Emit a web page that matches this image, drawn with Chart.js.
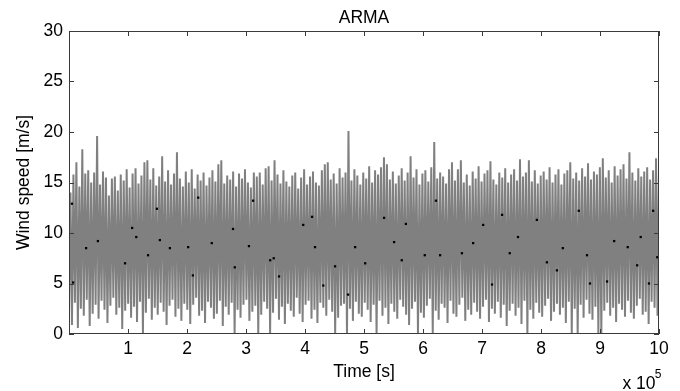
<!DOCTYPE html>
<html>
<head>
<meta charset="utf-8">
<script src="https://cdn.jsdelivr.net/npm/chart.js@4/dist/chart.umd.min.js"></script>
<style>
    html, body { margin: 0; padding: 0; background: #fff; }
    #wrap { width: 680px; height: 391px; position: relative; }
</style>
</head>
<body>
<div id="wrap"><canvas id="armaChart"></canvas></div>
<script>
// local maxima of the wind speed trace, left to right [m/s]
const peaks = [
    14.0, 15.8, 17.0, 14.6, 18.3, 15.9, 16.2, 15.0, 16.0, 19.6, 14.8, 16.1, 15.5, 13.7, 15.4, 15.6, 14.2, 15.8, 15.2, 16.3,
    14.5, 15.9, 16.4, 14.9, 15.7, 17.0, 17.2, 15.3, 16.4, 14.7, 15.6, 17.6, 15.1, 16.2, 14.8, 15.9, 18.0, 15.4, 14.6, 16.1,
    15.0, 16.3, 14.4, 15.8, 15.2, 16.0, 14.7, 15.5, 16.2, 15.1, 16.8, 17.2, 14.9, 15.7, 15.3, 16.1, 14.6, 15.9, 15.4, 16.3,
    15.0, 14.5, 16.0, 15.6, 16.0, 14.8, 16.4, 16.6, 15.2, 17.2, 15.8, 14.9, 16.2, 15.1, 14.6, 15.7, 16.0, 14.4, 15.5, 16.3,
    14.8, 15.6, 16.1, 15.0, 14.7, 16.2, 16.8, 17.0, 15.3, 15.9, 14.9, 16.4, 15.5, 16.0, 20.1, 15.2, 16.3, 15.7, 14.8, 16.0,
    15.4, 16.6, 15.0, 16.2, 15.8, 16.5, 17.5, 16.8, 15.3, 16.1, 14.9, 15.7, 16.4, 15.2, 16.0, 17.6, 15.5, 16.3, 14.8, 15.9,
    16.2, 15.1, 16.5, 19.0, 15.4, 16.0, 15.6, 14.9, 16.3, 17.0, 15.2, 16.3, 17.2, 15.0, 15.8, 14.7, 16.1, 15.4, 16.6, 15.1,
    15.9, 16.2, 17.1, 15.3, 14.8, 16.0, 15.5, 16.4, 15.0, 15.8, 16.3, 15.2, 17.3, 15.6, 16.0, 17.2, 15.1, 16.2, 14.9, 15.7,
    16.1, 15.3, 16.5, 15.0, 15.8, 16.3, 14.8, 15.9, 16.2, 17.0, 15.4, 16.0, 15.2, 16.4, 15.6, 16.9, 15.3, 16.1, 15.8, 16.5,
    17.4, 15.5, 16.2, 15.0, 16.6, 15.7, 16.3, 16.8, 15.4, 18.0, 16.0, 15.2, 16.4, 15.6, 16.1, 16.5, 15.3, 16.2, 17.4, 16.0
];

// local minima of the same trace [m/s]
const troughs = [
    2.2, 0.9, 3.1, 0.6, 2.5, 1.8, 3.4, 0.8, 2.0, 2.9, 1.5, 3.3, 2.4, 1.1, 2.8, 3.6, 1.9, 2.6, 0.5, 2.3,
    3.0, 1.6, 2.7, 1.2, 3.2, 0.0, 2.1, 3.5, 1.4, 2.6, 1.9, 3.1, 2.2, 0.9, 2.8, 3.4, 1.7, 2.5, 1.3, 3.0,
    2.4, 1.0, 2.9, 3.6, 1.8, 2.3, 1.1, 3.2, 2.6, 1.5, 2.0, 3.3, 0.8, 2.7, 1.9, 3.1, 0.0, 2.4, 1.6, 2.9,
    3.4, 1.3, 2.2, 2.8, 0.0, 1.9, 3.2, 2.5, 0.0, 2.1, 3.5, 1.4, 2.7, 1.0, 3.0, 2.3, 1.7, 3.6, 2.0, 1.2,
    2.9, 3.3, 1.5, 2.4, 1.1, 3.1, 2.6, 1.8, 3.4, 2.2, 0.0, 1.6, 2.8, 3.0, 0.0, 2.5, 1.3, 3.2, 2.0, 1.7,
    3.1, 2.4, 1.2, 2.9, 0.0, 3.3, 1.8, 2.6, 1.0, 3.0, 2.2, 1.5, 3.4, 2.7, 1.9, 0.9, 2.5, 3.2, 0.0, 2.1,
    1.6, 2.8, 3.5, 0.0, 2.3, 1.4, 3.0, 2.6, 1.1, 3.3, 2.0, 1.7, 2.9, 3.6, 1.3, 2.4, 1.9, 3.1, 2.2, 1.5,
    2.7, 3.4, 1.2, 2.5, 2.0, 3.2, 1.6, 2.9, 0.8, 2.3, 3.0, 1.8, 2.6, 1.0, 3.3, 0.0, 2.4, 1.5, 3.1, 2.1,
    1.7, 2.8, 3.5, 1.3, 2.2, 3.0, 1.9, 2.6, 1.1, 3.2, 0.0, 2.5, 0.0, 2.9, 1.6, 3.4, 2.0, 1.4, 2.7, 0.0,
    0.0, 2.3, 3.1, 1.8, 2.6, 1.2, 3.0, 2.4, 1.7, 3.3, 2.1, 1.5, 2.8, 3.5, 1.9, 2.2, 1.0, 3.2, 2.6, 1.8
];

// slow stretches of the trace that show up as dark specks (time in 1e5 s, speed in m/s)
const speckTimes = [
    0.05, 0.07, 0.29, 0.49, 0.95, 1.07, 1.14, 1.34, 1.49, 1.54, 1.71, 2.02, 2.10, 2.19, 2.42, 2.78, 2.81, 3.05, 3.12, 3.41,
    3.47, 3.56, 3.97, 4.12, 4.17, 4.31, 4.51, 4.73, 4.85, 5.02, 5.34, 5.51, 5.64, 5.71, 6.03, 6.22, 6.29, 6.66, 6.85, 7.02,
    7.17, 7.34, 7.47, 7.61, 7.93, 8.10, 8.27, 8.37, 8.64, 8.78, 8.83, 9.12, 9.24, 9.47, 9.63, 9.69, 9.83, 9.90, 9.97
];
const speckValues = [
    12.9, 5.1, 8.5, 9.2, 7.0, 10.5, 9.6, 7.8, 12.4, 9.3, 8.5, 8.6, 5.8, 13.5, 9.0, 10.4, 6.6, 8.7, 13.2, 7.3,
    7.5, 5.7, 10.8, 11.6, 8.6, 4.8, 6.7, 3.9, 8.6, 7.0, 11.5, 9.1, 7.3, 10.9, 7.8, 13.2, 7.8, 8.0, 9.0, 10.8,
    4.9, 11.8, 8.0, 9.6, 11.3, 7.1, 6.3, 8.5, 12.2, 7.8, 5.0, 5.2, 9.2, 8.6, 6.8, 9.6, 5.0, 12.2, 7.6
];

const timeMin = 0;
const timeMax = 1e6;
const yTicks = [0, 5, 10, 15, 20, 25, 30];
const xTicks = [1, 2, 3, 4, 5, 6, 7, 8, 9, 10]; // x 10^5

// trough, peak, trough, peak ... spread evenly over the time axis
const series = [];
troughs.forEach((lo, i) => {
    series.push(lo);
    series.push(peaks[i]);
});
const step = (timeMax - timeMin) / (series.length - 1);
const points = series.map((v, i) => ({ x: timeMin + i * step, y: v }));
const specks = speckTimes.map((t, i) => ({ x: t * 1e5, y: speckValues[i] }));

const FONT = 'Liberation Sans, Arial, Helvetica, sans-serif';
const FSIZE = 17.5;

// matlab style box with inward ticks + the "x 10^5" note
const matlabBox = {
    id: 'matlabBox',
    afterDraw(chart) {
        const { ctx, chartArea: a, scales } = chart;
        const x = scales.x, y = scales.y;
        ctx.save();
        ctx.strokeStyle = '#3a3a3a';
        ctx.lineWidth = 1;
        ctx.strokeRect(Math.round(a.left) + 0.5, Math.round(a.top) + 0.5,
            Math.round(a.width) - 1, Math.round(a.height) - 1);

        ctx.beginPath();
        xTicks.forEach(t => {
            const px = Math.round(x.getPixelForValue(t * 1e5)) + 0.5;
            ctx.moveTo(px, a.bottom); ctx.lineTo(px, a.bottom - 5);
            ctx.moveTo(px, a.top); ctx.lineTo(px, a.top + 5);
        });
        yTicks.forEach(t => {
            const py = Math.round(y.getPixelForValue(t)) + 0.5;
            ctx.moveTo(a.left, py); ctx.lineTo(a.left + 5, py);
            ctx.moveTo(a.right, py); ctx.lineTo(a.right - 5, py);
        });
        ctx.stroke();

        ctx.fillStyle = '#000';
        ctx.textAlign = 'center';
        ctx.textBaseline = 'alphabetic';
        ctx.font = FSIZE + 'px ' + FONT;
        ctx.fillText('x 10', a.right - 20, a.bottom + 55);
        ctx.font = '12px ' + FONT;
        ctx.fillText('5', a.right - 1, a.bottom + 44);
        ctx.restore();
    }
};

const ctx = document.getElementById('armaChart').getContext('2d');

new Chart(ctx, {
    type: 'line',
    data: {
        datasets: [{
            label: 'ARMA',
            data: points,
            borderColor: '#808080',
            borderWidth: 2,
            pointRadius: 0,
            tension: 0,
            fill: false,
            order: 2
        }, {
            type: 'scatter',
            label: 'specks',
            data: specks,
            pointStyle: 'rect',
            pointRadius: 1.6,
            backgroundColor: '#000',
            borderWidth: 0,
            order: 1
        }]
    },
    options: {
        responsive: true,
        maintainAspectRatio: false,
        animation: false,
        devicePixelRatio: 1,
        layout: { padding: { left: 0, right: 21, top: 0, bottom: 0 } },
        plugins: {
            legend: { display: false },
            tooltip: { enabled: false },
            title: {
                display: true,
                fullSize: false,
                text: 'ARMA',
                color: '#000',
                font: { family: FONT, size: FSIZE, weight: 'normal' },
                padding: { top: 8, bottom: 2 }
            }
        },
        scales: {
            x: {
                type: 'linear',
                min: timeMin,
                max: timeMax,
                afterFit: (scale) => { scale.height = 57; },
                afterBuildTicks: (scale) => {
                    scale.ticks = [0].concat(xTicks).map(v => ({ value: v * 1e5 }));
                },
                grid: { display: false, drawTicks: false },
                border: { display: false },
                ticks: {
                    color: '#000',
                    font: { family: FONT, size: FSIZE },
                    padding: 5,
                    maxRotation: 0,
                    autoSkip: false,
                    callback: (v) => (v === 0 ? '' : String(Math.round(v / 1e5)))
                },
                title: {
                    display: true,
                    text: 'Time [s]',
                    color: '#000',
                    font: { family: FONT, size: FSIZE },
                    padding: { top: 0, bottom: 8 }
                }
            },
            y: {
                min: 0,
                max: 30,
                afterFit: (scale) => { scale.width = 69; },
                afterBuildTicks: (scale) => {
                    scale.ticks = yTicks.map(v => ({ value: v }));
                },
                grid: { display: false, drawTicks: false },
                border: { display: false },
                ticks: {
                    color: '#000',
                    font: { family: FONT, size: FSIZE },
                    padding: 6
                },
                title: {
                    display: true,
                    text: 'Wind speed [m/s]',
                    color: '#000',
                    font: { family: FONT, size: FSIZE },
                    padding: { top: 14, bottom: 0 }
                }
            }
        }
    },
    plugins: [matlabBox]
});
</script>
</body>
</html>
